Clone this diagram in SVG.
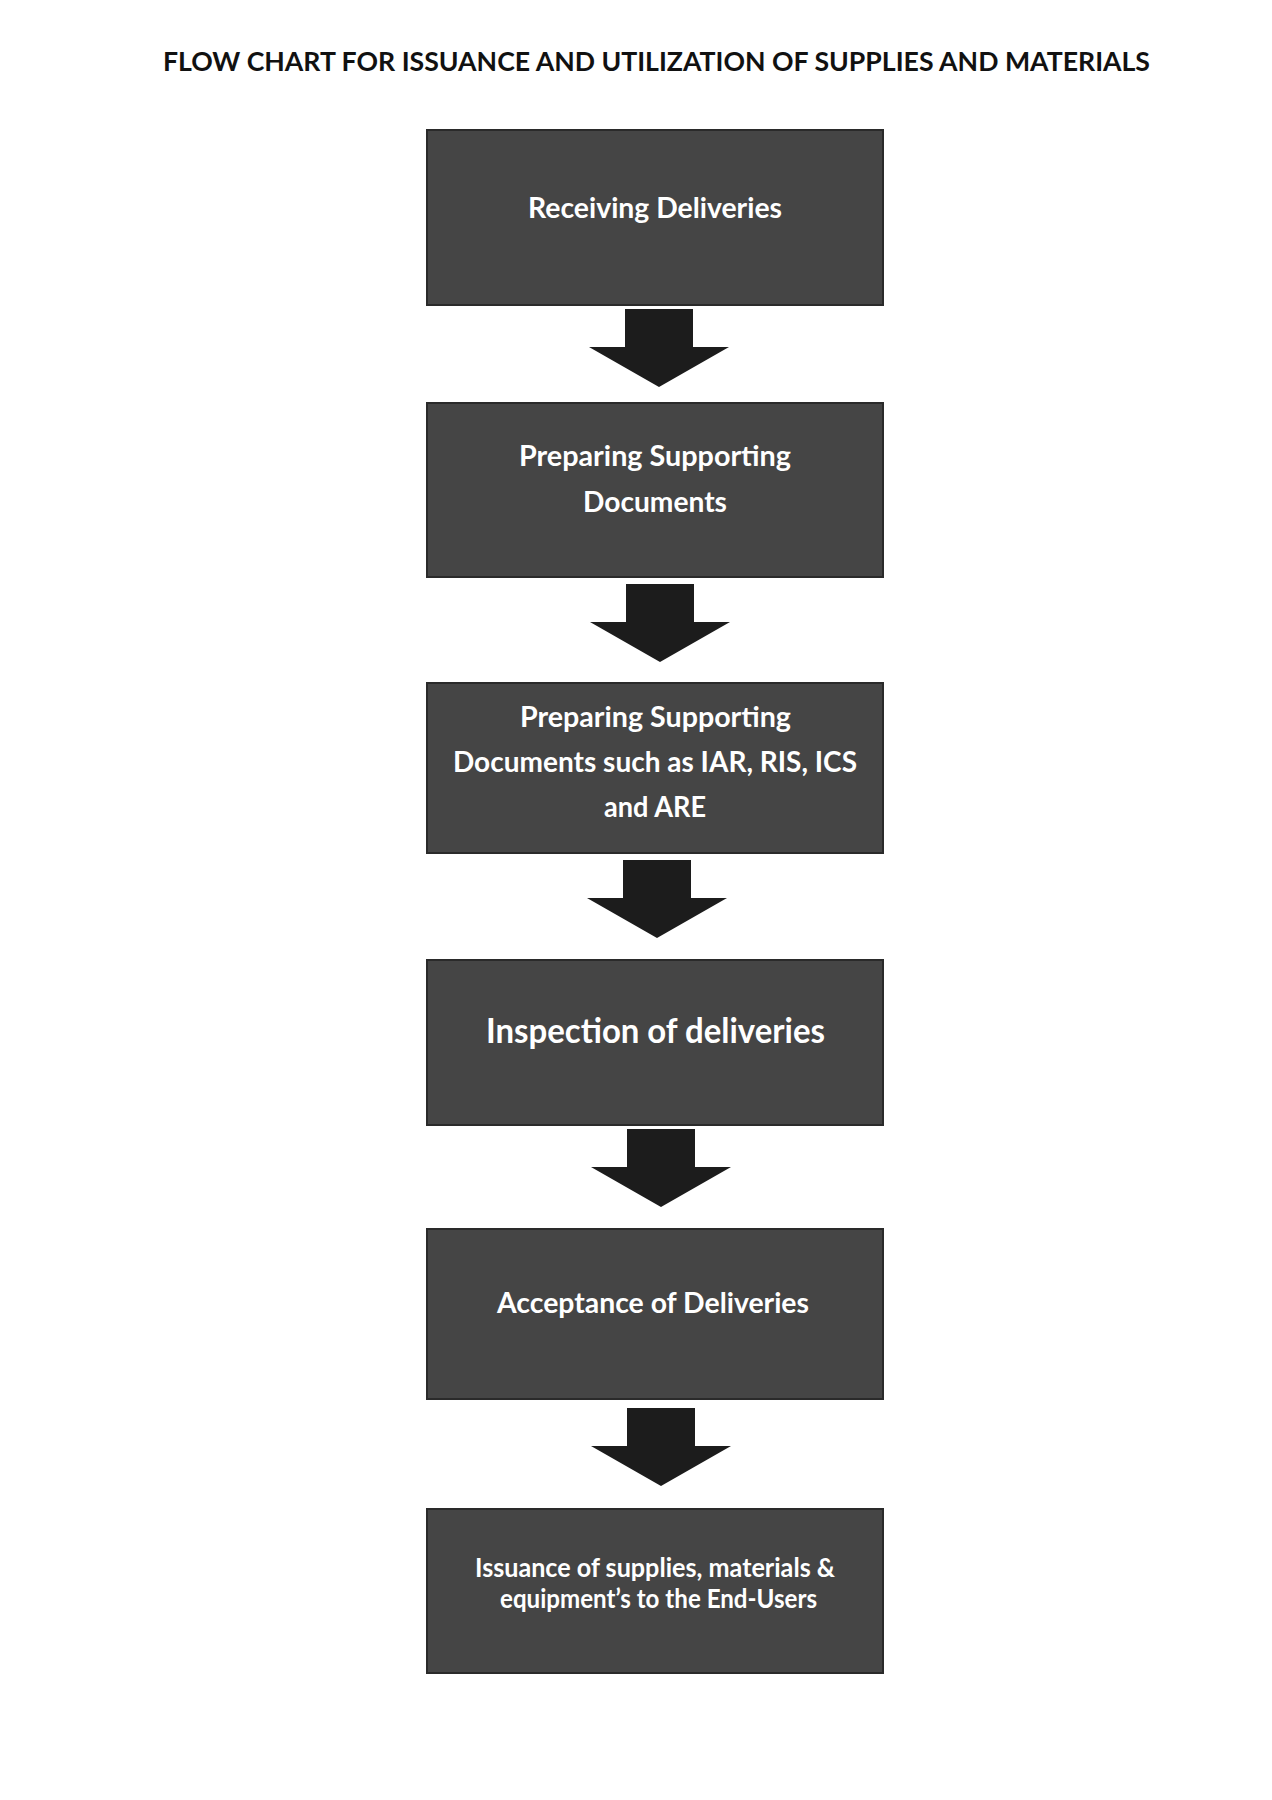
<svg xmlns="http://www.w3.org/2000/svg" width="1272" height="1800" viewBox="0 0 1272 1800">
<defs>
<style>
.bg{fill:#ffffff}
.box{fill:#454545;stroke:#2a2a2a;stroke-width:2}
.arrow{fill:#1c1c1c}
.lbl{font-family:Lato,"Open Sans","Liberation Sans",sans-serif;font-weight:700;fill:#ffffff}
.title{font-family:Lato,"Open Sans","Liberation Sans",sans-serif;font-weight:700;fill:#111111;font-size:27px}
</style>
<path id="arr" d="M-34,0 H34 V38 H70 L0,78 L-70,38 H-34 Z"/>
</defs>
<rect class="bg" x="0" y="0" width="1272" height="1800"/>
<text class="title" x="163" y="71" textLength="987" lengthAdjust="spacingAndGlyphs">FLOW CHART FOR ISSUANCE AND UTILIZATION OF SUPPLIES AND MATERIALS</text>

<g id="connectors">
<use href="#arr" class="arrow" x="659" y="309"/>
<use href="#arr" class="arrow" x="660" y="584"/>
<use href="#arr" class="arrow" x="657" y="860"/>
<use href="#arr" class="arrow" x="661" y="1129"/>
<use href="#arr" class="arrow" x="661" y="1408"/>
</g>

<g id="node1">
<rect class="box" x="427" y="130" width="456" height="175"/>
<text class="lbl" x="528" y="218" font-size="29" textLength="254" lengthAdjust="spacingAndGlyphs">Receiving Deliveries</text>
</g>
<g id="node2">
<rect class="box" x="427" y="403" width="456" height="174"/>
<text class="lbl" x="519" y="466" font-size="29" textLength="272" lengthAdjust="spacingAndGlyphs">Preparing Supporting</text>
<text class="lbl" x="583" y="512" font-size="29" textLength="144" lengthAdjust="spacingAndGlyphs">Documents</text>
</g>
<g id="node3">
<rect class="box" x="427" y="683" width="456" height="170"/>
<text class="lbl" x="520" y="727" font-size="29" textLength="271" lengthAdjust="spacingAndGlyphs">Preparing Supporting</text>
<text class="lbl" x="453" y="772" font-size="29" textLength="404" lengthAdjust="spacingAndGlyphs">Documents such as IAR, RIS, ICS</text>
<text class="lbl" x="604" y="817" font-size="29" textLength="102" lengthAdjust="spacingAndGlyphs">and ARE</text>
</g>
<g id="node4">
<rect class="box" x="427" y="960" width="456" height="165"/>
<text class="lbl" x="486" y="1043" font-size="34" textLength="339" lengthAdjust="spacingAndGlyphs">Inspection of deliveries</text>
</g>
<g id="node5">
<rect class="box" x="427" y="1229" width="456" height="170"/>
<text class="lbl" x="497" y="1313" font-size="29" textLength="312" lengthAdjust="spacingAndGlyphs">Acceptance of Deliveries</text>
</g>
<g id="node6">
<rect class="box" x="427" y="1509" width="456" height="164"/>
<text class="lbl" x="475" y="1577" font-size="26" textLength="360" lengthAdjust="spacingAndGlyphs">Issuance of supplies, materials &amp;</text>
<text class="lbl" x="500" y="1608" font-size="26" textLength="317" lengthAdjust="spacingAndGlyphs">equipment’s to the End-Users</text>
</g>
</svg>
